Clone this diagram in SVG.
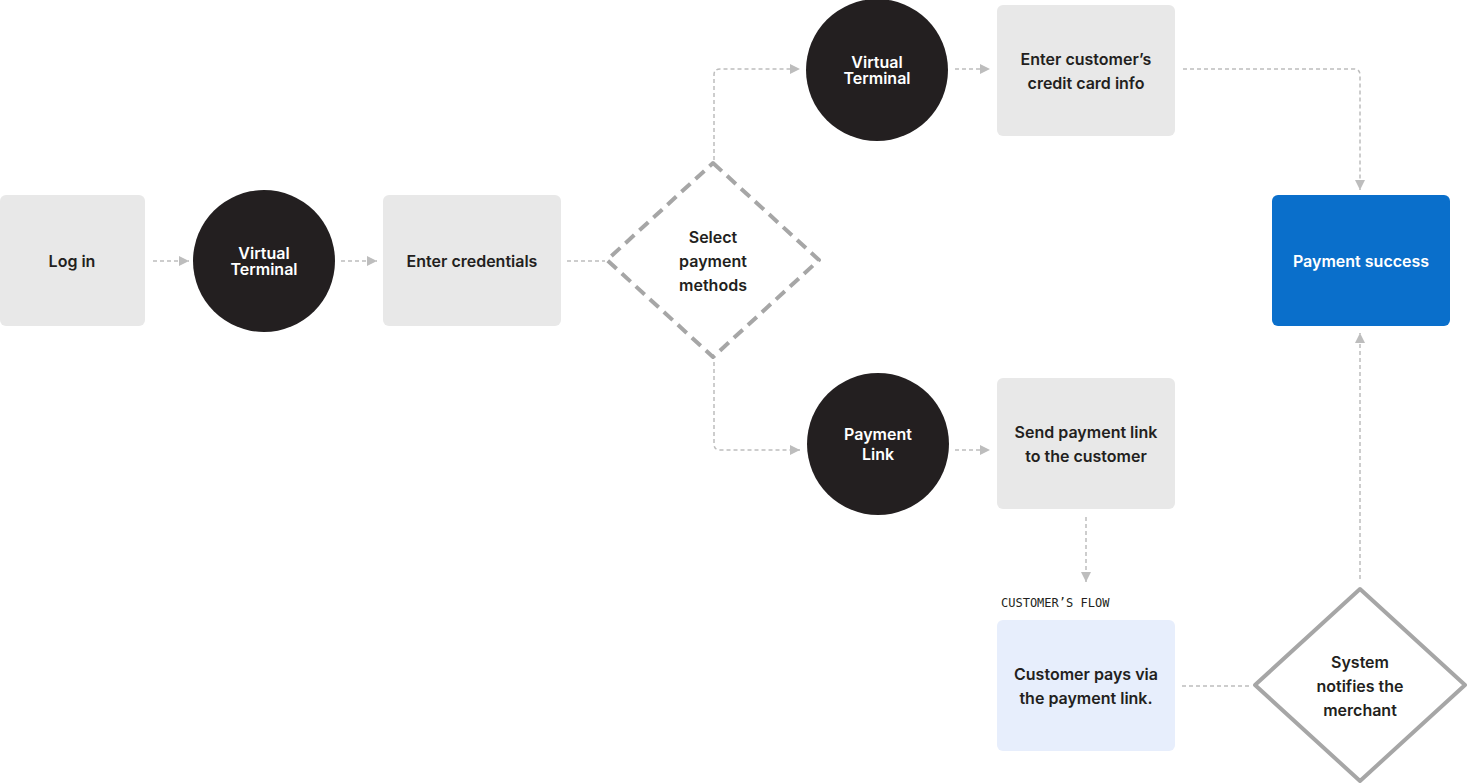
<svg xmlns="http://www.w3.org/2000/svg" width="1467" height="783" viewBox="0 0 1467 783">
<defs>
<marker id="arr" viewBox="0 0 10 10" refX="10" refY="5" markerWidth="10" markerHeight="10" markerUnits="userSpaceOnUse" orient="auto">
<path d="M0,0 L10,5 L0,10 Z" fill="#bdbdbd"/>
</marker>
<style>
.box{fill:#e8e8e8}
.circ{fill:#231f20}
.t{font-family:Inter,"Liberation Sans",sans-serif;font-weight:600;font-size:16px;fill:#231f20;text-anchor:middle}
.w{fill:#ffffff}
.c{fill:none;stroke:#bdbdbd;stroke-width:1.5;stroke-dasharray:4 3}
.a{marker-end:url(#arr)}
</style>
</defs>
<rect width="1467" height="783" fill="#ffffff"/>
<g id="connectors">
<path class="c a" d="M153,261 H189"/>
<path class="c a" d="M341,261 H377"/>
<path class="c" d="M567,261 H605"/>
<path class="c a" d="M714,160 V75 Q714,69 720,69 H800"/>
<path class="c a" d="M714,362 V444 Q714,450 720,450 H800"/>
<path class="c a" d="M955,69 H990"/>
<path class="c a" d="M955,450 H990"/>
<path class="c a" d="M1183,69 H1354 Q1360,69 1360,75 V190"/>
<path class="c a" d="M1086,517 V582"/>
<path class="c" d="M1182,686 H1250"/>
<path class="c a" d="M1360,579 V333"/>
</g>
<g id="login">
<rect class="box" x="0" y="195" width="145" height="131" rx="6"/>
<text class="t" x="72" y="267">Log in</text>
</g>
<g id="vt1">
<circle class="circ" cx="264" cy="261" r="71"/>
<text class="t w" x="264" y="259">Virtual</text>
<text class="t w" x="264" y="275">Terminal</text>
</g>
<g id="credentials">
<rect class="box" x="383" y="195" width="178" height="131" rx="6"/>
<text class="t" x="472" y="267">Enter credentials</text>
</g>
<g id="select">
<path d="M713,163 L819,260 L713,357 L607,260 Z" fill="none" stroke="#a6a6a6" stroke-width="4" stroke-dasharray="12 7" stroke-linejoin="round"/>
<text class="t" x="713" y="243">Select</text>
<text class="t" x="713" y="267">payment</text>
<text class="t" x="713" y="291">methods</text>
</g>
<g id="vt2">
<circle class="circ" cx="877" cy="70" r="71"/>
<text class="t w" x="877" y="68">Virtual</text>
<text class="t w" x="877" y="84">Terminal</text>
</g>
<g id="cardinfo">
<rect class="box" x="997" y="5" width="178" height="131" rx="6"/>
<text class="t" x="1086" y="65">Enter customer’s</text>
<text class="t" x="1086" y="89">credit card info</text>
</g>
<g id="paylink">
<circle class="circ" cx="878" cy="444" r="71"/>
<text class="t w" x="878" y="440">Payment</text>
<text class="t w" x="878" y="460">Link</text>
</g>
<g id="sendlink">
<rect class="box" x="997" y="378" width="178" height="131" rx="6"/>
<text class="t" x="1086" y="438">Send payment link</text>
<text class="t" x="1086" y="462">to the customer</text>
</g>
<g id="success">
<rect x="1272" y="195" width="178" height="131" rx="6" fill="#0a6fcb"/>
<text class="t w" x="1361" y="267">Payment success</text>
</g>
<g id="customerflow">
<text x="1001" y="607" font-family="'DejaVu Sans Mono','Liberation Mono',monospace" font-size="12" fill="#231f20">CUSTOMER’S FLOW</text>
<rect x="997" y="620" width="178" height="131" rx="6" fill="#e7eefc"/>
<text class="t" x="1086" y="680">Customer pays via</text>
<text class="t" x="1086" y="704">the payment link.</text>
</g>
<g id="notify">
<path d="M1360,589 L1465,685 L1360,781 L1255,685 Z" fill="none" stroke="#a6a6a6" stroke-width="4" stroke-linejoin="round"/>
<text class="t" x="1360" y="668">System</text>
<text class="t" x="1360" y="692">notifies the</text>
<text class="t" x="1360" y="716">merchant</text>
</g>
</svg>
